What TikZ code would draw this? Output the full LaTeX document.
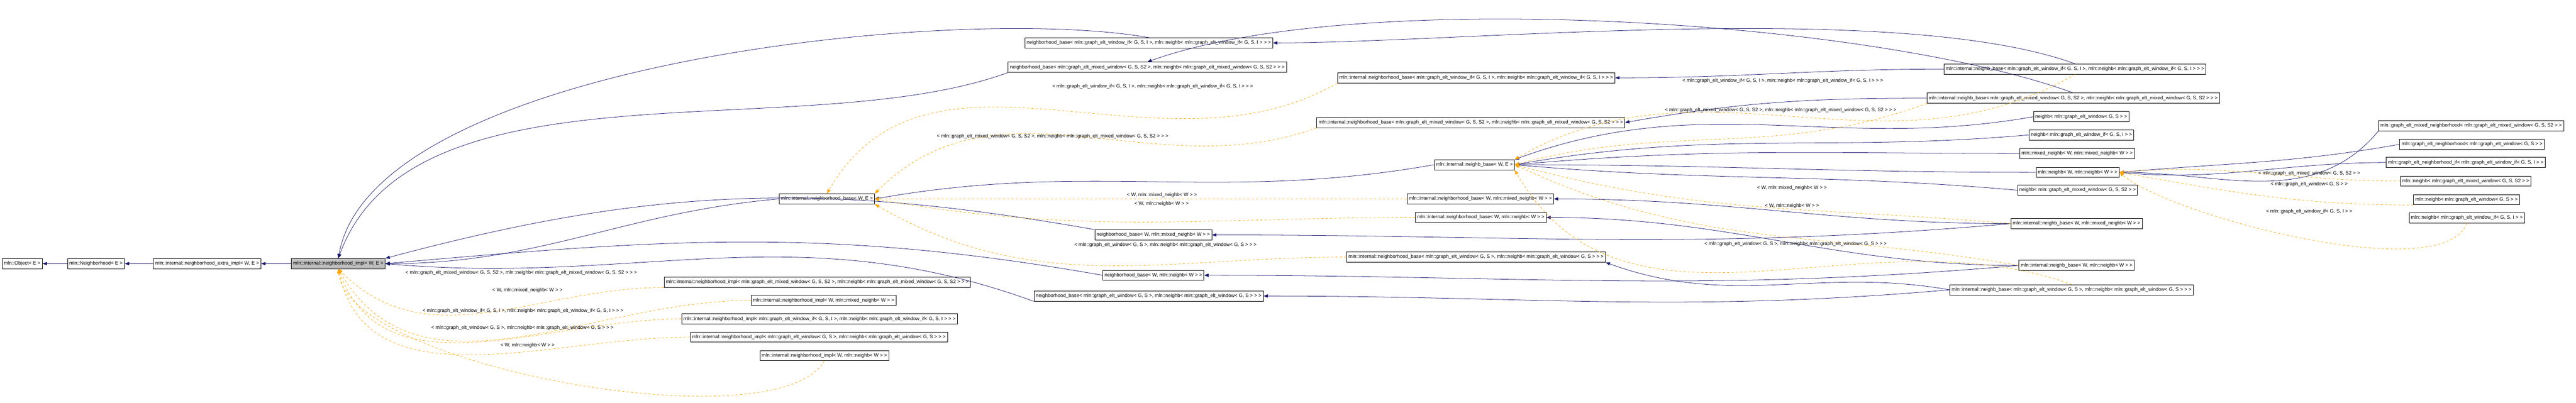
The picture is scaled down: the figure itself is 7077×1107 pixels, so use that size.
\documentclass[tikz,border=0pt]{standalone}
\usepackage{fontspec}
\setmainfont{Liberation Sans}
\usetikzlibrary{arrows.meta}
\definecolor{edgeblue}{RGB}{25,25,112}
\definecolor{edgeorange}{RGB}{255,165,0}
\tikzset{
  cls/.style={draw, line width=0.25pt, fill=white, anchor=west, minimum height=5.6pt, inner xsep=1pt, inner ysep=0.5pt, font=\fontsize{2.7}{3}\selectfont},
  lbl/.style={font=\fontsize{2.7}{3}\selectfont, inner sep=0.2pt},
  inh/.style={draw=edgeblue, line width=0.22pt, -{Triangle[length=2.4pt,width=1.8pt]}},
  tpl/.style={draw=edgeorange, line width=0.22pt, dash pattern=on 1.2pt off 1.2pt, -{Triangle[length=2.4pt,width=1.8pt]}},
}
\begin{document}
\begin{tikzpicture}[x=0.2pt,y=0.2pt]
\useasboundingbox (0,0) rectangle (7077,-1107);
% base chain
\node[cls] (obj)   at (5,-725)   {mln::Object< E >};
\node[cls] (nbh)   at (185,-725) {mln::Neighborhood< E >};
\node[cls] (extra) at (421,-725) {mln::internal::neighborhood\_extra\_impl< W, E >};
\node[cls, fill=black!25] (impl) at (800,-725) {mln::internal::neighborhood\_impl< W, E >};
% impl instances
\node[cls] (implmix)  at (1824,-776) {mln::internal::neighborhood\_impl< mln::graph\_elt\_mixed\_window< G, S, S2 >, mln::neighb< mln::graph\_elt\_mixed\_window< G, S, S2 > > >};
\node[cls] (implWmix) at (2063,-826) {mln::internal::neighborhood\_impl< W, mln::mixed\_neighb< W > >};
\node[cls] (implif)   at (1872,-877) {mln::internal::neighborhood\_impl< mln::graph\_elt\_window\_if< G, S, I >, mln::neighb< mln::graph\_elt\_window\_if< G, S, I > > >};
\node[cls] (implwin)  at (1896,-927) {mln::internal::neighborhood\_impl< mln::graph\_elt\_window< G, S >, mln::neighb< mln::graph\_elt\_window< G, S > > >};
\node[cls] (implWn)   at (2087,-978) {mln::internal::neighborhood\_impl< W, mln::neighb< W > >};
% neighborhood_base
\node[cls] (nbase) at (2140,-547) {mln::internal::neighborhood\_base< W, E >};
\node[cls] (bif)   at (2815,-118) {neighborhood\_base< mln::graph\_elt\_window\_if< G, S, I >, mln::neighb< mln::graph\_elt\_window\_if< G, S, I > > >};
\node[cls] (bmix)  at (2769,-185) {neighborhood\_base< mln::graph\_elt\_mixed\_window< G, S, S2 >, mln::neighb< mln::graph\_elt\_mixed\_window< G, S, S2 > > >};
\node[cls] (bWmix) at (3007,-646) {neighborhood\_base< W, mln::mixed\_neighb< W > >};
\node[cls] (bWn)   at (3029,-757) {neighborhood\_base< W, mln::neighb< W > >};
\node[cls] (bwin)  at (2840,-814) {neighborhood\_base< mln::graph\_elt\_window< G, S >, mln::neighb< mln::graph\_elt\_window< G, S > > >};
\node[cls] (ibif)   at (3674,-214) {mln::internal::neighborhood\_base< mln::graph\_elt\_window\_if< G, S, I >, mln::neighb< mln::graph\_elt\_window\_if< G, S, I > > >};
\node[cls] (ibmix)  at (3617,-337) {mln::internal::neighborhood\_base< mln::graph\_elt\_mixed\_window< G, S, S2 >, mln::neighb< mln::graph\_elt\_mixed\_window< G, S, S2 > > >};
\node[cls] (ibWmix) at (3865,-547) {mln::internal::neighborhood\_base< W, mln::mixed\_neighb< W > >};
\node[cls] (ibWn)   at (3888,-598) {mln::internal::neighborhood\_base< W, mln::neighb< W > >};
\node[cls] (ibwin)  at (3699,-707) {mln::internal::neighborhood\_base< mln::graph\_elt\_window< G, S >, mln::neighb< mln::graph\_elt\_window< G, S > > >};
% neighb_base
\node[cls] (nbWE)   at (3940,-453) {mln::internal::neighb\_base< W, E >};
\node[cls] (nbif)   at (5340,-190) {mln::internal::neighb\_base< mln::graph\_elt\_window\_if< G, S, I >, mln::neighb< mln::graph\_elt\_window\_if< G, S, I > > >};
\node[cls] (nbmix)  at (5293,-270) {mln::internal::neighb\_base< mln::graph\_elt\_mixed\_window< G, S, S2 >, mln::neighb< mln::graph\_elt\_mixed\_window< G, S, S2 > > >};
\node[cls] (nbWmix) at (5524,-615) {mln::internal::neighb\_base< W, mln::mixed\_neighb< W > >};
\node[cls] (nbWn)   at (5546,-730) {mln::internal::neighb\_base< W, mln::neighb< W > >};
\node[cls] (nbwin)  at (5356,-797) {mln::internal::neighb\_base< mln::graph\_elt\_window< G, S >, mln::neighb< mln::graph\_elt\_window< G, S > > >};
% neighb
\node[cls] (ngwin)   at (5586,-321) {neighb< mln::graph\_elt\_window< G, S > >};
\node[cls] (ngif)    at (5574,-371) {neighb< mln::graph\_elt\_window\_if< G, S, I > >};
\node[cls] (mixn)    at (5548,-422) {mln::mixed\_neighb< W, mln::mixed\_neighb< W > >};
\node[cls] (neighbW) at (5593,-474) {mln::neighb< W, mln::neighb< W > >};
\node[cls] (ngmix)   at (5542,-523) {neighb< mln::graph\_elt\_mixed\_window< G, S, S2 > >};
\node[cls] (gemix) at (6534,-346) {mln::graph\_elt\_mixed\_neighborhood< mln::graph\_elt\_mixed\_window< G, S, S2 > >};
\node[cls] (gewin) at (6592,-397) {mln::graph\_elt\_neighborhood< mln::graph\_elt\_window< G, S > >};
\node[cls] (geif)  at (6555,-447) {mln::graph\_elt\_neighborhood\_if< mln::graph\_elt\_window\_if< G, S, I > >};
\node[cls] (nmix)  at (6594,-498) {mln::neighb< mln::graph\_elt\_mixed\_window< G, S, S2 > >};
\node[cls] (nwin)  at (6630,-549) {mln::neighb< mln::graph\_elt\_window< G, S > >};
\node[cls] (nif)   at (6618,-599) {mln::neighb< mln::graph\_elt\_window\_if< G, S, I > >};

% inheritance
\draw[inh] (nbh) -- (obj);
\draw[inh] (extra) -- (nbh);
\draw[inh] (impl) -- (extra);
\draw[inh] (nbase.west) to[out=185,in=0] (impl.east);
\draw[inh] (bif.north) to[out=170,in=80,looseness=0.6] (impl.north);
\draw[inh] (bmix.south west) to[out=200,in=70,looseness=0.8] (impl.north);
\draw[inh] (bWmix.north west) to[out=170,in=15] (impl.north east);
\draw[inh] (bWn.west) to[out=170,in=5] (impl.east);
\draw[inh] (bwin.south west) to[out=160,in=-5] (impl.east);
\draw[inh] (nbWE.west) to[out=190,in=10] (nbase.east);
\draw[inh] (nbif.west) to[out=180,in=0] (ibif.east);
\draw[inh] (nbif.north) to[out=160,in=0,looseness=0.6] (bif.east);
\draw[inh] (nbmix.west) to[out=180,in=10] (ibmix.east);
\draw[inh] (nbmix.north) to[out=160,in=20,looseness=0.6] (bmix.north);
\draw[inh] (nbWmix.west) to[out=180,in=0] (ibWmix.east);
\draw[inh] (nbWmix.west) to[out=185,in=0] (bWmix.east);
\draw[inh] (nbWn.west) to[out=180,in=0] (ibWn.east);
\draw[inh] (nbWn.west) to[out=185,in=0] (bWn.east);
\draw[inh] (nbwin.west) to[out=170,in=-20] (ibwin.south east);
\draw[inh] (nbwin.west) to[out=185,in=0] (bwin.east);
\draw[inh] (ngwin.west) to[out=190,in=20] (nbWE.north east);
\draw[inh] (ngif.west) to[out=185,in=10] (nbWE.east);
\draw[inh] (mixn.west) to[out=180,in=5] (nbWE.east);
\draw[inh] (neighbW.west) to[out=180,in=0] (nbWE.east);
\draw[inh] (ngmix.west) to[out=175,in=-5] (nbWE.east);
\draw[inh] (gemix.south west) to[out=230,in=0] (neighbW.east);
\draw[inh] (gewin.west) to[out=190,in=5] (neighbW.east);
\draw[inh] (geif.west) to[out=180,in=-5] (neighbW.east);

% template instances
\draw[tpl] (implmix.south west) to[out=180,in=-45] (impl.south);
\draw[tpl] (implWmix.west) to[out=180,in=-60] (impl.south);
\draw[tpl] (implif.west) to[out=180,in=-70] (impl.south);
\draw[tpl] (implwin.west) to[out=180,in=-78] (impl.south);
\draw[tpl] (implWn.south) to[out=-120,in=-85,looseness=0.5] (impl.south);
\draw[tpl] (ibWmix.west) -- (nbase.east);
\draw[tpl] (ibWn.west) to[out=180,in=-10] (nbase.east);
\draw[tpl] (ibwin.west) to[out=180,in=-30] (nbase.south east);
\draw[tpl] (ibif.south west) to[out=210,in=60] (nbase.north);
\draw[tpl] (ibmix.south west) to[out=200,in=45] (nbase.north east);
\draw[tpl] (nbif.south) to[out=-150,in=30] (nbWE.north east);
\draw[tpl] (nbmix.south west) to[out=200,in=15] (nbWE.east);
\draw[tpl] (nbWmix.west) to[out=175,in=-15] (nbWE.east);
\draw[tpl] (nbWn.west) to[out=170,in=-25] (nbWE.east);
\draw[tpl] (nbwin.north) to[out=160,in=-60] (nbWE.south east);
\draw[tpl] (nmix.west) to[out=180,in=5] (neighbW.east);
\draw[tpl] (nwin.south west) to[out=180,in=-10] (neighbW.east);
\draw[tpl] (nif.south) to[out=-110,in=-40,looseness=0.5] (neighbW.east);

% labels
\node[lbl, anchor=west] (l1) at (1112,-750) {< mln::graph\_elt\_mixed\_window< G, S, S2 >, mln::neighb< mln::graph\_elt\_mixed\_window< G, S, S2 > > >};
\node[lbl, anchor=west] (l2) at (1351,-798) {< W, mln::mixed\_neighb< W > >};
\node[lbl, anchor=west] (l3) at (1159,-855) {< mln::graph\_elt\_window\_if< G, S, I >, mln::neighb< mln::graph\_elt\_window\_if< G, S, I > > >};
\node[lbl, anchor=west] (l4) at (1183,-901) {< mln::graph\_elt\_window< G, S >, mln::neighb< mln::graph\_elt\_window< G, S > > >};
\node[lbl, anchor=west] (l5) at (1373,-950) {< W, mln::neighb< W > >};
\node[lbl] (l6) at (3192,-536) {< W, mln::mixed\_neighb< W > >};
\node[lbl] (l7) at (3191,-561) {< W, mln::neighb< W > >};
\node[lbl] (l8) at (3202,-674) {< mln::graph\_elt\_window< G, S >, mln::neighb< mln::graph\_elt\_window< G, S > > >};
\node[lbl, anchor=west] (l9)  at (2889,-238) {< mln::graph\_elt\_window\_if< G, S, I >, mln::neighb< mln::graph\_elt\_window\_if< G, S, I > > >};
\node[lbl, anchor=west] (l10) at (2572,-375) {< mln::graph\_elt\_mixed\_window< G, S, S2 >, mln::neighb< mln::graph\_elt\_mixed\_window< G, S, S2 > > >};
\node[lbl, anchor=west] (l11) at (4620,-222) {< mln::graph\_elt\_window\_if< G, S, I >, mln::neighb< mln::graph\_elt\_window\_if< G, S, I > > >};
\node[lbl, anchor=west] (l12) at (4572,-303) {< mln::graph\_elt\_mixed\_window< G, S, S2 >, mln::neighb< mln::graph\_elt\_mixed\_window< G, S, S2 > > >};
\node[lbl] (l13) at (4923,-517) {< W, mln::mixed\_neighb< W > >};
\node[lbl] (l14) at (4923,-566) {< W, mln::neighb< W > >};
\node[lbl] (l15) at (4933,-671) {< mln::graph\_elt\_window< G, S >, mln::neighb< mln::graph\_elt\_window< G, S > > >};
\node[lbl] (l16) at (6344,-477) {< mln::graph\_elt\_mixed\_window< G, S, S2 > >};
\node[lbl] (l17) at (6344,-507) {< mln::graph\_elt\_window< G, S > >};
\node[lbl] (l18) at (6344,-582) {< mln::graph\_elt\_window\_if< G, S, I > >};
\end{tikzpicture}
\end{document}
